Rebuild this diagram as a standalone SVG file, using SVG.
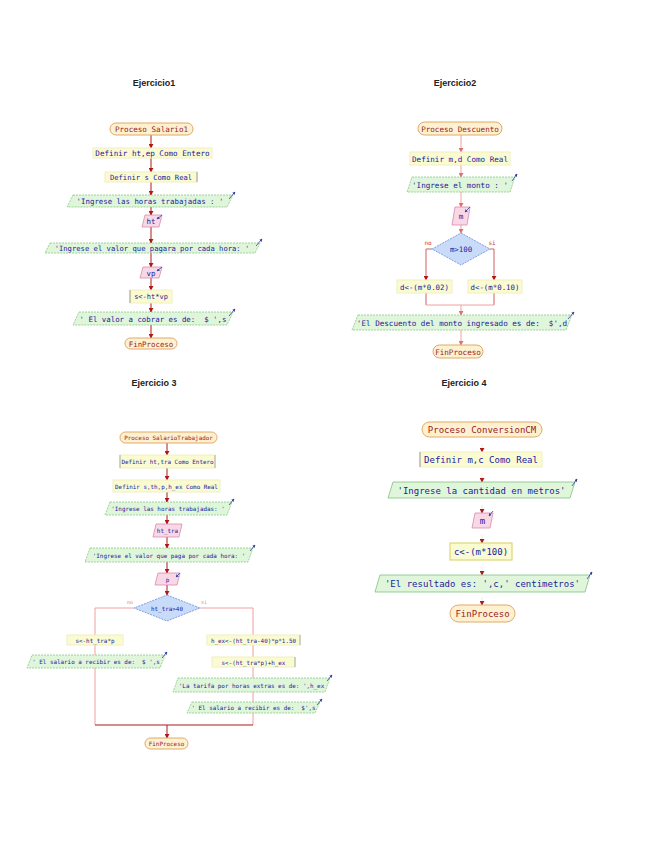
<svg xmlns="http://www.w3.org/2000/svg" width="655" height="848" viewBox="0 0 655 848">
<defs>
<marker id="ar" viewBox="0 0 6 6" refX="5" refY="3" markerWidth="5" markerHeight="5" orient="auto"><path d="M0,0 L6,3 L0,6 z" fill="#b01818"/></marker>
<marker id="ap" viewBox="0 0 6 6" refX="5" refY="3" markerWidth="5" markerHeight="5" orient="auto"><path d="M0,0 L6,3 L0,6 z" fill="#e07070"/></marker>
<marker id="ab" viewBox="0 0 6 6" refX="5" refY="3" markerWidth="4" markerHeight="4" orient="auto"><path d="M0,0 L6,3 L0,6 z" fill="#3040a0"/></marker>
</defs>
<style>
.title{font-family:"Liberation Sans",Arial,sans-serif;font-size:9px;font-weight:bold;fill:#222;text-anchor:middle}
.t{font-family:"DejaVu Sans Mono","Liberation Mono",monospace;text-anchor:middle;white-space:pre}
.term{fill:#fdf1cf;stroke:#e0a868;stroke-width:1}
.proc{fill:#fbfbd2;stroke:#f0f0c0;stroke-width:1}
.io{fill:#e0f6da;stroke:#88c888;stroke-width:0.8;stroke-dasharray:2 1}
.rd{fill:#f8d8e6;stroke:#d88aa8;stroke-width:0.8}
.dia{fill:#c8dcfa;stroke:#6a8ad8;stroke-width:0.8;stroke-dasharray:2 1}
.tr{fill:#9a1a2a}
.tb{fill:#2020a0}
.cr{stroke:#b01818;stroke-width:1;fill:none}
.cp{stroke:#f0a0a0;stroke-width:1;fill:none}
.ic{stroke:#3040a0;stroke-width:0.8;fill:none}
</style>

<text class="title" x="154" y="86">Ejercicio1</text>
<text class="title" x="455" y="86">Ejercicio2</text>
<text class="title" x="154" y="386">Ejercicio 3</text>
<text class="title" x="464" y="386">Ejercicio 4</text>

<g id="connectors">
<line class="cr" x1="151" y1="135" x2="151" y2="148" marker-end="url(#ar)"/>
<line class="cr" x1="151" y1="158" x2="151" y2="172" marker-end="url(#ar)"/>
<line class="cr" x1="151" y1="182" x2="151" y2="195" marker-end="url(#ar)"/>
<line class="cr" x1="151" y1="207" x2="151" y2="215" marker-end="url(#ar)"/>
<line class="cr" x1="151" y1="227" x2="151" y2="243" marker-end="url(#ar)"/>
<line class="cr" x1="151" y1="253" x2="151" y2="267" marker-end="url(#ar)"/>
<line class="cr" x1="151" y1="278" x2="151" y2="290" marker-end="url(#ar)"/>
<line class="cr" x1="151" y1="303" x2="151" y2="312" marker-end="url(#ar)"/>
<line class="cr" x1="151" y1="325" x2="151" y2="338" marker-end="url(#ar)"/>
<line class="cp" x1="461" y1="135" x2="461" y2="152" marker-end="url(#ap)"/>
<line class="cp" x1="461" y1="165" x2="461" y2="177" marker-end="url(#ap)"/>
<line class="cp" x1="461" y1="192" x2="461" y2="207" marker-end="url(#ap)"/>
<line class="cp" x1="461" y1="225" x2="461" y2="233" marker-end="url(#ap)"/>
<polyline class="cr" points="432,249 426,249 426,280" marker-end="url(#ar)" style="stroke:#d06060"/>
<polyline class="cr" points="490,249 494,249 494,280" marker-end="url(#ar)" style="stroke:#d06060"/>
<line class="cr" x1="426" y1="293" x2="426" y2="305" style="stroke:#d06060"/>
<line class="cr" x1="494" y1="293" x2="494" y2="305" style="stroke:#d06060"/>
<line class="cp" x1="426" y1="305" x2="494" y2="305"/>
<line class="cp" x1="461" y1="305" x2="461" y2="315" marker-end="url(#ap)"/>
<line class="cp" x1="461" y1="330" x2="461" y2="345" marker-end="url(#ap)"/>
<line class="cr" x1="167" y1="443" x2="167" y2="455" marker-end="url(#ar)"/>
<line class="cr" x1="167" y1="468" x2="167" y2="480" marker-end="url(#ar)"/>
<line class="cr" x1="167" y1="492" x2="167" y2="502" marker-end="url(#ar)"/>
<line class="cr" x1="167" y1="515" x2="167" y2="524" marker-end="url(#ar)"/>
<line class="cr" x1="167" y1="537" x2="167" y2="548" marker-end="url(#ar)"/>
<line class="cr" x1="167" y1="562" x2="167" y2="573" marker-end="url(#ar)"/>
<line class="cr" x1="167" y1="585" x2="167" y2="595" marker-end="url(#ar)"/>
<polyline class="cp" points="134,608 95,608 95,635"/>
<polyline class="cp" points="200,608 253,608 253,635"/>
<line class="cp" x1="95" y1="645" x2="95" y2="655"/>
<line class="cp" x1="95" y1="668" x2="95" y2="725"/>
<line class="cp" x1="253" y1="645" x2="253" y2="657"/>
<line class="cp" x1="253" y1="667" x2="253" y2="678"/>
<line class="cp" x1="253" y1="692" x2="253" y2="702"/>
<line class="cp" x1="253" y1="713" x2="253" y2="725"/>
<line class="cr" x1="95" y1="725" x2="253" y2="725"/>
<line class="cr" x1="167" y1="725" x2="167" y2="738" marker-end="url(#ar)"/>
<line class="cp" x1="482" y1="444" x2="482" y2="452" marker-end="url(#ar)" style="stroke-opacity:0.3"/>
<line class="cp" x1="482" y1="474" x2="482" y2="482" marker-end="url(#ar)" style="stroke-opacity:0.3"/>
<line class="cp" x1="482" y1="505" x2="482" y2="513" marker-end="url(#ar)" style="stroke-opacity:0.3"/>
<line class="cp" x1="482" y1="535" x2="482" y2="543" marker-end="url(#ar)" style="stroke-opacity:0.3"/>
<line class="cp" x1="482" y1="567" x2="482" y2="575" marker-end="url(#ar)" style="stroke-opacity:0.3"/>
<line class="cp" x1="482" y1="597" x2="482" y2="605" marker-end="url(#ar)" style="stroke-opacity:0.3"/>
</g>

<g id="e1-inicio"><rect class="term" x="110" y="123" width="83" height="12" rx="6"/><text class="t tr" x="151.5" y="132" font-size="7.6">Proceso Salario1</text></g>
<g id="e1-def1"><rect class="proc" x="93" y="148" width="119" height="10"/><text class="t tb" x="152.5" y="156" font-size="7.6">Definir ht,ep Como Entero</text></g>
<g id="e1-def2"><rect class="proc" x="105" y="172" width="92" height="10"/><line x1="197" y1="172" x2="197" y2="182" stroke="#888" stroke-width="0.8"/><text class="t tb" x="151" y="180" font-size="7.2">Definir s Como Real</text></g>
<g id="e1-out1"><polygon class="io" points="73,195 233,195 227,207 67,207"/><line class="ic" x1="229" y1="199" x2="235" y2="192" marker-end="url(#ab)"/><text class="t tb" x="150" y="204" font-size="7.4">'Ingrese las horas trabajadas : '</text></g>
<g id="e1-ht"><polygon class="rd" points="145,215 162,215 159,227 142,227"/><line class="ic" x1="162" y1="215" x2="157" y2="219" marker-end="url(#ab)"/><text class="t tb" x="151" y="224" font-size="7.4">ht</text></g>
<g id="e1-out2"><polygon class="io" points="50,243 260,243 255,253 45,253"/><line class="ic" x1="256" y1="246" x2="262" y2="239" marker-end="url(#ab)"/><text class="t tb" x="152" y="251" font-size="7.2">'Ingrese el valor que pagara por cada hora: '</text></g>
<g id="e1-vp"><polygon class="rd" points="143,267 162,267 159,278 140,278"/><line class="ic" x1="162" y1="267" x2="157" y2="271" marker-end="url(#ab)"/><text class="t tb" x="151" y="275.5" font-size="7.4">vp</text></g>
<g id="e1-calc"><rect class="proc" x="130" y="290" width="42" height="13"/><line x1="130" y1="290" x2="130" y2="303" stroke="#888" stroke-width="0.8"/><text class="t tb" x="151" y="299" font-size="7">s&lt;-ht*vp</text></g>
<g id="e1-out3"><polygon class="io" points="79,312 233,312 227,325 73,325"/><line class="ic" x1="229" y1="316" x2="235" y2="309" marker-end="url(#ab)"/><text class="t tb" x="153" y="321.5" font-size="7.4">' El valor a cobrar es de:  $ ',s</text></g>
<g id="e1-fin"><rect class="term" x="125" y="338" width="52" height="11" rx="5.5"/><text class="t tr" x="151" y="346.5" font-size="7.4">FinProceso</text></g>

<g id="e2-inicio"><rect class="term" x="418" y="122" width="84" height="13" rx="6.5"/><text class="t tr" x="460" y="131.5" font-size="7.6">Proceso Descuento</text></g>
<g id="e2-def"><rect class="proc" x="410" y="152" width="100" height="13"/><text class="t tb" x="460" y="161.5" font-size="7.6">Definir m,d Como Real</text></g>
<g id="e2-out1"><polygon class="io" points="412,177 515,177 510,192 407,192"/><line class="ic" x1="512" y1="181" x2="517" y2="174" marker-end="url(#ab)"/><text class="t tb" x="460" y="187.5" font-size="7.6">'Ingrese el monto : '</text></g>
<g id="e2-m"><polygon class="rd" points="455,207 470,207 467,225 452,225"/><line class="ic" x1="470" y1="207" x2="465" y2="212" marker-end="url(#ab)"/><text class="t tb" x="461" y="219" font-size="7.6">m</text></g>
<g id="e2-cond"><polygon class="dia" points="461,233 490,249 461,265 432,249"/><text class="t tb" x="461" y="251.5" font-size="7.4">m&gt;100</text><text class="t tr" x="428" y="245" font-size="6" style="fill:#c04040">no</text><text class="t tr" x="492" y="245" font-size="6" style="fill:#c04040">si</text></g>
<g id="e2-no"><rect class="proc" x="397" y="280" width="55" height="13"/><text class="t tb" x="424.5" y="289.5" font-size="7.4">d&lt;-(m*0.02)</text></g>
<g id="e2-si"><rect class="proc" x="468" y="280" width="54" height="13"/><text class="t tb" x="495" y="289.5" font-size="7.4">d&lt;-(m*0.10)</text></g>
<g id="e2-out2"><polygon class="io" points="358,315 572,315 566,330 352,330"/><line class="ic" x1="568" y1="319" x2="574" y2="312" marker-end="url(#ab)"/><text class="t tb" x="462" y="325.5" font-size="7.6">'El Descuento del monto ingresado es de:  $',d</text></g>
<g id="e2-fin"><rect class="term" x="433" y="345" width="50" height="13" rx="6.5"/><text class="t tr" x="458" y="354.5" font-size="7.6">FinProceso</text></g>

<g id="e3-inicio"><rect class="term" x="120" y="432" width="97" height="11" rx="5.5"/><text class="t tr" x="168.5" y="440" font-size="5.9">Proceso SalarioTrabajador</text></g>
<g id="e3-def1"><rect class="proc" x="120" y="455" width="95" height="13"/><line x1="120" y1="455" x2="120" y2="468" stroke="#999" stroke-width="0.8"/><line x1="215" y1="455" x2="215" y2="468" stroke="#999" stroke-width="0.8"/><text class="t tb" x="167.5" y="464" font-size="5.9">Definir ht,tra Como Entero</text></g>
<g id="e3-def2"><rect class="proc" x="113" y="480" width="107" height="12"/><text class="t tb" x="166.5" y="488.5" font-size="5.9">Definir s,th,p,h_ex Como Real</text></g>
<g id="e3-out1"><polygon class="io" points="110,502 232,502 227,515 105,515"/><line class="ic" x1="229" y1="505" x2="234" y2="499" marker-end="url(#ab)"/><text class="t tb" x="168" y="511" font-size="5.9">'Ingrese las horas trabajadas: '</text></g>
<g id="e3-r1"><polygon class="rd" points="156,524 182,524 179,537 153,537"/><text class="t tb" x="167.5" y="533" font-size="5.9">ht_tra</text></g>
<g id="e3-out2"><polygon class="io" points="90,548 253,548 248,562 85,562"/><line class="ic" x1="250" y1="551" x2="255" y2="545" marker-end="url(#ab)"/><text class="t tb" x="169" y="557.5" font-size="5.9">'Ingrese el valor que paga por cada hora: '</text></g>
<g id="e3-r2"><polygon class="rd" points="158,573 180,573 177,585 155,585"/><line class="ic" x1="180" y1="573" x2="176" y2="577" marker-end="url(#ab)"/><text class="t tb" x="167.5" y="581.5" font-size="5.9">p</text></g>
<g id="e3-cond"><polygon class="dia" points="167,595 200,608 167,621 134,608"/><text class="t tb" x="167" y="610.5" font-size="5.9">ht_tra&gt;40</text><text class="t" x="130" y="604" font-size="5" style="fill:#e08080">no</text><text class="t" x="204" y="604" font-size="5" style="fill:#e08080">si</text></g>
<g id="e3-no"><rect class="proc" x="67" y="635" width="56" height="10"/><text class="t tb" x="95" y="642.5" font-size="5.9">s&lt;-ht_tra*p</text></g>
<g id="e3-outno"><polygon class="io" points="32,655 165,655 160,668 27,668"/><line class="ic" x1="162" y1="658" x2="167" y2="652" marker-end="url(#ab)"/><text class="t tb" x="96" y="664" font-size="5.9">' El salario a recibir es de:  $ ',s</text></g>
<g id="e3-si1"><rect class="proc" x="207" y="635" width="93" height="10"/><line x1="300" y1="635" x2="300" y2="645" stroke="#999" stroke-width="0.8"/><text class="t tb" x="253.5" y="642.5" font-size="5.9">h_ex&lt;-(ht_tra-40)*p*1.50</text></g>
<g id="e3-si2"><rect class="proc" x="212" y="657" width="83" height="10"/><line x1="295" y1="657" x2="295" y2="667" stroke="#999" stroke-width="0.8"/><text class="t tb" x="253.5" y="664.5" font-size="5.9">s&lt;-(ht_tra*p)+h_ex</text></g>
<g id="e3-out3"><polygon class="io" points="178,678 330,678 325,692 173,692"/><line class="ic" x1="327" y1="681" x2="332" y2="675" marker-end="url(#ab)"/><text class="t tb" x="251.5" y="687.5" font-size="5.9">'La tarifa por horas extras es de: ',h_ex</text></g>
<g id="e3-out4"><polygon class="io" points="192,702 320,702 315,713 187,713"/><line class="ic" x1="317" y1="705" x2="322" y2="699" marker-end="url(#ab)"/><text class="t tb" x="253.5" y="710" font-size="5.9">' El salario a recibir es de:  $',s</text></g>
<g id="e3-fin"><rect class="term" x="145" y="738" width="43" height="11" rx="5.5"/><text class="t tr" x="166.5" y="746" font-size="5.9">FinProceso</text></g>

<g id="e4-inicio"><rect class="term" x="422" y="422" width="120" height="15" rx="7.5"/><text class="t tr" x="482" y="433" font-size="9">Proceso ConversionCM</text></g>
<g id="e4-def"><rect class="proc" x="420" y="452" width="122" height="15"/><line x1="420" y1="452" x2="420" y2="467" stroke="#999" stroke-width="1"/><text class="t tb" x="481" y="463" font-size="9">Definir m,c Como Real</text></g>
<g id="e4-out1"><polygon class="io" points="393,482 575,482 570,498 388,498" style="stroke-dasharray:none;stroke:#80c080"/><line class="ic" x1="572" y1="486" x2="577" y2="479" marker-end="url(#ab)"/><text class="t tb" x="481.5" y="493.5" font-size="9">'Ingrese la cantidad en metros'</text></g>
<g id="e4-m"><polygon class="rd" points="475,513 493,513 490,528 472,528"/><line class="ic" x1="493" y1="511" x2="489" y2="516" marker-end="url(#ab)"/><text class="t tb" x="482.5" y="524" font-size="9">m</text></g>
<g id="e4-calc"><rect class="proc" x="450" y="543" width="62" height="17" style="stroke:#d8d060"/><text class="t tb" x="481" y="555" font-size="9">c&lt;-(m*100)</text></g>
<g id="e4-out2"><polygon class="io" points="380,575 590,575 585,592 375,592" style="stroke-dasharray:none;stroke:#80c080"/><line class="ic" x1="587" y1="579" x2="592" y2="572" marker-end="url(#ab)"/><text class="t tb" x="482.5" y="587" font-size="9">'El resultado es: ',c,' centimetros'</text></g>
<g id="e4-fin"><rect class="term" x="450" y="605" width="65" height="17" rx="8.5"/><text class="t tr" x="482.5" y="617" font-size="9">FinProceso</text></g>
</svg>
